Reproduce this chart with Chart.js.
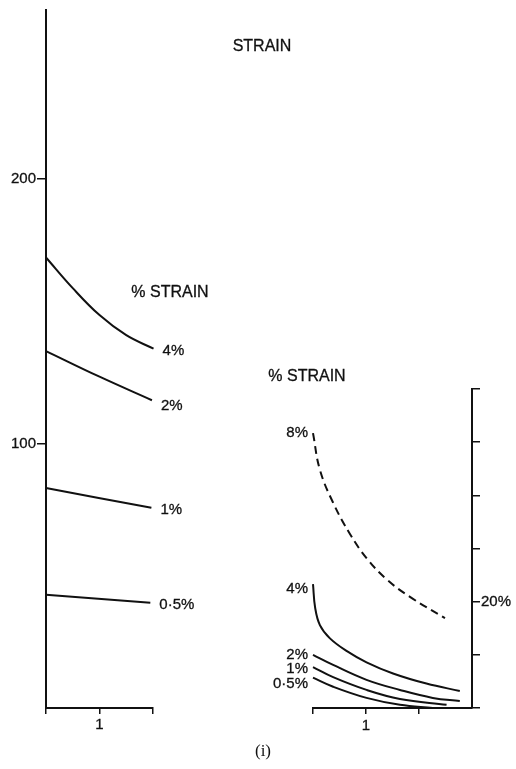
<!DOCTYPE html>
<html>
<head>
<meta charset="utf-8">
<script src="https://cdn.jsdelivr.net/npm/chart.js@4/dist/chart.umd.min.js"></script>
<style>
  html, body { margin: 0; padding: 0; background: #fff; }
  #wrap { position: relative; width: 516px; height: 769px; overflow: hidden; }
  #wrap canvas { position: absolute; left: 0; top: 0; }
</style>
</head>
<body>
<div id="wrap">
  <canvas id="leftPanel" width="516" height="769"></canvas>
  <canvas id="rightPanel" width="516" height="769"></canvas>
</div>
<script>
// ---- left panel: stress vs time for each strain level ----
const leftLabels = ['4%', '2%', '1%', '0·5%'];
const left4X = [0, 0.5, 1.0, 1.5, 2.01];
const left4Y = [170.4, 158.8, 148.6, 141.0, 135.9];
const left2X = [0, 1.0, 1.98];
const left2Y = [135, 125.3, 116.4];
const left1X = [0, 1.97];
const left1Y = [83.2, 75.7];
const left05X = [0, 1.95];
const left05Y = [42.8, 39.8];
const leftXTicks = [0, 1, 2];
const leftYTicks = [100, 200];

// ---- right panel: percentage curves ----
const rightLabels = ['8%', '4%', '2%', '1%', '0·5%'];
const right8X = [0, 0.13, 0.38, 0.70, 1.01, 1.39, 1.83, 2.49];
const right8Y = [51.7, 44.8, 38.6, 32.7, 28.2, 24.2, 20.9, 16.9];
const right4X = [0, 0.04, 0.13, 0.32, 0.64, 1.01, 1.51, 2.14, 2.77];
const right4Y = [23.3, 18.9, 15.6, 13.1, 10.7, 8.6, 6.5, 4.6, 3.2];
const right2X = [0, 0.38, 1.01, 1.64, 2.26, 2.77];
const right2Y = [10.0, 8.1, 5.3, 3.4, 1.9, 1.3];
const right1X = [0, 0.38, 1.01, 1.64, 2.52];
const right1Y = [7.7, 5.8, 3.4, 1.7, 0.6];
const right05X = [0, 0.38, 1.01, 1.64, 2.26];
const right05Y = [5.7, 4.0, 1.9, 0.6, 0.0];
const rightXTicks = [0, 1, 2];
const rightYTicks = [0, 10, 20, 30, 40, 50, 60];

const INK = '#111';
const SANS = '"Liberation Sans", Arial, sans-serif';
const HEAVY = 0.3; // slight outline so the lettering reads as printed ink

function pts(xs, ys) { return xs.map((x, i) => ({ x: x, y: ys[i] })); }

function curve(label, xs, ys, dashed) {
  return {
    label: label,
    data: pts(xs, ys),
    borderColor: INK,
    borderWidth: 2,
    borderDash: dashed ? [8, 5] : [],
    pointRadius: 0,
    fill: false,
    tension: 0.4,
    clip: false
  };
}

function inkText(ctx, text, x, y, outline) {
  ctx.fillText(text, x, y);
  if (outline) ctx.strokeText(text, x, y);
}

// writes each curve's name next to its first or last point
const curveLabels = {
  id: 'curveLabels',
  afterDatasetsDraw(chart, args, opts) {
    const ctx = chart.ctx;
    ctx.save();
    ctx.font = '15px ' + SANS;
    ctx.fillStyle = INK;
    ctx.strokeStyle = INK;
    ctx.lineWidth = HEAVY;
    ctx.textBaseline = 'middle';
    chart.data.datasets.forEach((ds, i) => {
      const els = chart.getDatasetMeta(i).data;
      const atEnd = opts.side === 'end';
      const p = atEnd ? els[els.length - 1] : els[0];
      const dy = (opts.dy && opts.dy[i]) || 0;
      ctx.textAlign = atEnd ? 'left' : 'right';
      inkText(ctx, ds.label, p.x + opts.dx, p.y + dy, true);
    });
    ctx.restore();
  }
};

// free-standing headings
const captions = {
  id: 'captions',
  afterDraw(chart, args, opts) {
    const ctx = chart.ctx;
    ctx.save();
    ctx.fillStyle = INK;
    ctx.strokeStyle = INK;
    ctx.lineWidth = HEAVY;
    ctx.textAlign = 'center';
    ctx.textBaseline = 'middle';
    (opts.items || []).forEach(it => {
      ctx.font = it.font;
      inkText(ctx, it.text, it.x, it.y, it.outline);
    });
    ctx.restore();
  }
};

function tickList(list) {
  return function (scale) { scale.ticks = list.map(v => ({ value: v })); };
}

const axisGrid = (len) => ({
  drawOnChartArea: false,
  drawTicks: true,
  tickLength: len,
  color: INK,
  lineWidth: 1.5
});
const axisBorder = { display: true, color: INK, width: 2 };
const tickFont = { family: SANS, size: 15 };

new Chart(document.getElementById('leftPanel'), {
  type: 'line',
  data: {
    datasets: [
      curve(leftLabels[0], left4X, left4Y),
      curve(leftLabels[1], left2X, left2Y),
      curve(leftLabels[2], left1X, left1Y),
      curve(leftLabels[3], left05X, left05Y)
    ]
  },
  options: {
    responsive: false,
    animation: false,
    events: [],
    layout: { padding: { left: 0, right: 363, top: 8, bottom: 0 } },
    plugins: {
      legend: { display: false },
      tooltip: { enabled: false },
      curveLabels: { side: 'end', dx: 9, dy: [2, 6, 2, 2] },
      captions: {
        items: [
          { text: 'STRAIN', x: 262, y: 47, font: '16px ' + SANS, outline: true },
          { text: '% STRAIN', x: 170, y: 293, font: '16px ' + SANS, outline: true },
          { text: '% STRAIN', x: 307, y: 377, font: '16px ' + SANS, outline: true },
          { text: '(i)', x: 263, y: 752, font: '17px "Liberation Serif", serif', outline: false }
        ]
      }
    },
    scales: {
      x: {
        type: 'linear', min: 0, max: 2,
        afterFit(s) { s.height = 61; },
        afterBuildTicks: tickList(leftXTicks),
        ticks: { callback: v => (v === 1 ? '1' : ''), color: INK, font: tickFont, padding: 2, maxRotation: 0, autoSkip: false, textStrokeColor: INK, textStrokeWidth: HEAVY },
        grid: axisGrid(6),
        border: axisBorder
      },
      y: {
        type: 'linear', min: 0, max: 264,
        afterFit(s) { s.width = 46; },
        afterBuildTicks: tickList(leftYTicks),
        ticks: { color: INK, font: tickFont, padding: 1, textStrokeColor: INK, textStrokeWidth: HEAVY },
        grid: axisGrid(9),
        border: axisBorder
      }
    }
  },
  plugins: [curveLabels, captions]
});

new Chart(document.getElementById('rightPanel'), {
  type: 'line',
  data: {
    datasets: [
      curve(rightLabels[0], right8X, right8Y, true),
      curve(rightLabels[1], right4X, right4Y),
      curve(rightLabels[2], right2X, right2Y),
      curve(rightLabels[3], right1X, right1Y),
      curve(rightLabels[4], right05X, right05Y)
    ]
  },
  options: {
    responsive: false,
    animation: false,
    events: [],
    layout: { padding: { left: 313, right: 0, top: 389, bottom: 0 } },
    plugins: {
      legend: { display: false },
      tooltip: { enabled: false },
      curveLabels: { side: 'start', dx: -5, dy: [0, 5, 0, 2, 6] }
    },
    scales: {
      x: {
        type: 'linear', min: 0, max: 3,
        afterFit(s) { s.height = 61; },
        afterBuildTicks: tickList(rightXTicks),
        ticks: { callback: v => (v === 1 ? '1' : ''), color: INK, font: tickFont, padding: 3, maxRotation: 0, autoSkip: false, textStrokeColor: INK, textStrokeWidth: HEAVY },
        grid: axisGrid(6),
        border: axisBorder
      },
      y: {
        type: 'linear', position: 'right', min: 0, max: 60,
        afterFit(s) { s.width = 44; },
        afterBuildTicks: tickList(rightYTicks),
        ticks: { callback: v => (v === 20 ? '20%' : ''), color: INK, font: tickFont, padding: 1, textStrokeColor: INK, textStrokeWidth: HEAVY },
        grid: axisGrid(8),
        border: axisBorder
      }
    }
  },
  plugins: [curveLabels]
});
</script>
</body>
</html>
